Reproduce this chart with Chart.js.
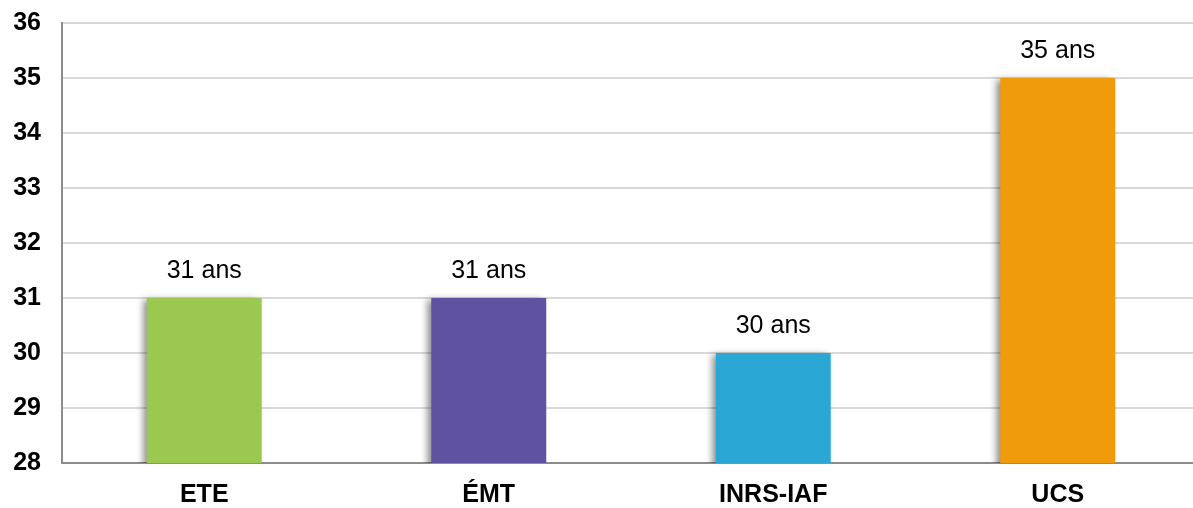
<!DOCTYPE html>
<html>
<head>
<meta charset="utf-8">
<script src="https://cdn.jsdelivr.net/npm/chart.js@4/dist/chart.umd.min.js"></script>
<style>
  html, body { margin: 0; padding: 0; background: #fff; overflow: hidden; }
  #wrap { width: 1200px; height: 508px; }
</style>
</head>
<body>
<div id="wrap"><canvas id="age-chart"></canvas></div>
<script>
var categories = ['ETE', 'ÉMT', 'INRS-IAF', 'UCS'];
var ages = [31, 31, 30, 35];
var valueLabels = ['31 ans', '31 ans', '30 ans', '35 ans'];
var barColors = ['#9bc84e', '#5f52a0', '#2aa7d5', '#f09b0b'];
var yTicks = [28, 29, 30, 31, 32, 33, 34, 35, 36];

// soft shadow on the left/bottom of each bar
var shadowPlugin = {
  id: 'barShadow',
  beforeDatasetDraw: function (chart) {
    var ctx = chart.ctx;
    ctx.save();
    ctx.shadowColor = 'rgba(0,0,0,0.45)';
    ctx.shadowBlur = 7;
    ctx.shadowOffsetX = -4;
    ctx.shadowOffsetY = 2;
  },
  afterDatasetDraw: function (chart) {
    chart.ctx.restore();
  }
};

var labelPlugin = {
  id: 'valueLabels',
  afterDatasetsDraw: function (chart) {
    var ctx = chart.ctx;
    var meta = chart.getDatasetMeta(0);
    ctx.save();
    ctx.font = '25px "Liberation Sans", Arial, sans-serif';
    ctx.fillStyle = '#000';
    ctx.textAlign = 'center';
    ctx.textBaseline = 'middle';
    meta.data.forEach(function (bar, i) {
      ctx.fillText(valueLabels[i], bar.x, bar.y - 27);
    });
    ctx.restore();
  }
};

var chartEl = document.getElementById('age-chart');
var ageChart = new Chart(chartEl, {
  type: 'bar',
  data: {
    labels: categories,
    datasets: [
      {
        data: ages,
        backgroundColor: barColors,
        borderWidth: 0,
        barPercentage: 0.404,
        categoryPercentage: 1.0
      }
    ]
  },
  options: {
    responsive: true,
    maintainAspectRatio: false,
    animation: false,
    layout: { padding: { top: 23, left: 0, right: 0, bottom: 0 } },
    plugins: {
      legend: { display: false },
      tooltip: { enabled: false }
    },
    scales: {
      x: {
        grid: { display: false, drawTicks: false },
        border: { display: true, color: '#8c8c8c', width: 2 },
        ticks: {
          color: '#000',
          padding: 17,
          font: { family: '"Liberation Sans", Arial, sans-serif', size: 25, weight: 'bold' }
        },
        afterFit: function (scale) { scale.height = 45; }
      },
      y: {
        min: 28,
        max: 36,
        afterBuildTicks: function (scale) {
          scale.ticks = yTicks.map(function (v) { return { value: v }; });
        },
        grid: { color: '#d9d9d9', lineWidth: 2, drawTicks: false },
        border: { display: true, color: '#8c8c8c', width: 2 },
        ticks: {
          color: '#000',
          padding: 21,
          font: { family: '"Liberation Sans", Arial, sans-serif', size: 25, weight: 'bold' }
        },
        afterFit: function (scale) {
          scale.width = 62;
          scale.paddingTop = 0;
          scale.paddingBottom = 0;
        }
      }
    }
  },
  plugins: [shadowPlugin, labelPlugin]
});
</script>
</body>
</html>
